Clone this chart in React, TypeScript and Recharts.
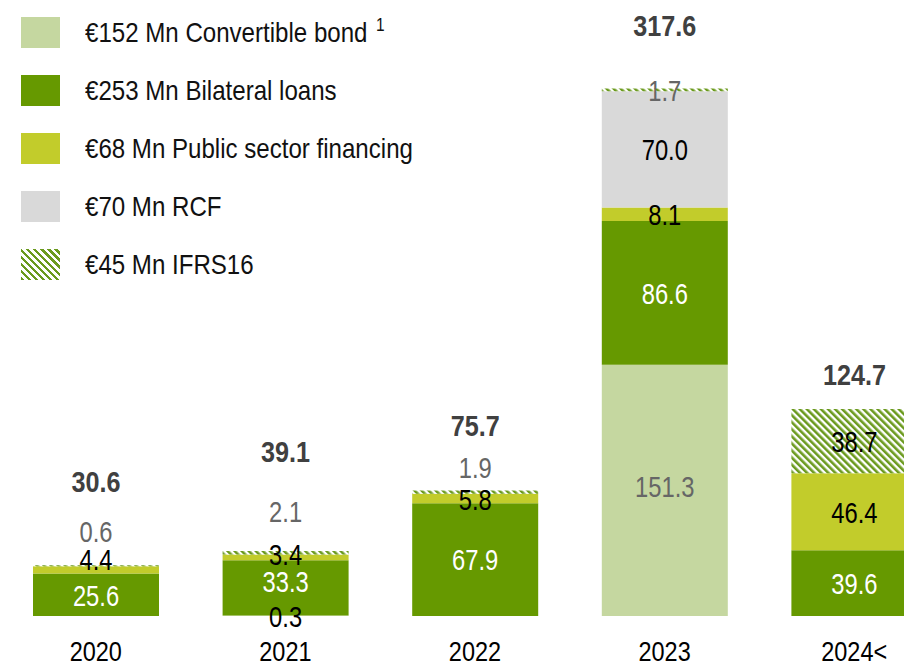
import React from 'react';
import { BarChart, Bar, XAxis, YAxis, Legend, LabelList } from 'recharts';

const categories = ['2020', '2021', '2022', '2023', '2024<'];
const convertible = [0, 0.3, 0, 151.3, 0];
const bilateral = [25.6, 33.3, 67.9, 86.6, 39.6];
const publicSector = [4.4, 3.4, 5.8, 8.1, 46.4];
const rcf = [0, 0, 0, 70.0, 0];
const ifrs16 = [0.6, 2.1, 1.9, 1.7, 38.7];
const totals = [30.6, 39.1, 75.7, 317.6, 124.7];

const legendNames = [
    '€152 Mn Convertible bond',
    '€253 Mn Bilateral loans',
    '€68 Mn Public sector financing',
    '€70 Mn RCF',
    '€45 Mn IFRS16',
];

const data = categories.map((name, i) => ({
    name,
    convertible: convertible[i],
    bilateral: bilateral[i],
    publicSector: publicSector[i],
    rcf: rcf[i],
    ifrs16: ifrs16[i],
    total: totals[i],
}));

// no narrow font installed, so squeeze Liberation Sans (Arial metrics)
const FONT = "'Liberation Sans', Arial, sans-serif";
const GREEN = '#669900';
const HATCH = '#6b9a1e';
const GREY_TEXT = '#666666';

// hand-placed label nudges (px) where small segments would collide
const shiftConvertible = [0, -4, 0, 0, 0];
const shiftBilateral = [0, -7, 0, 0, 0];
const shiftPublic = [-11, -3, 1, 0, 0];
const shiftIfrs = [-35, -42, -25, 0, 0];
const totalLift = [83, 99, 65, 63, 34];

const Narrow = ({ x, y, fill, bold, size = 29, squeeze = 0.82, children }: any) => (
    <text
        transform={`translate(${x},${y}) scale(${squeeze},1)`}
        textAnchor="middle"
        dominantBaseline="central"
        fill={fill}
        fontSize={size}
        fontWeight={bold ? 'bold' : 'normal'}
        fontFamily={FONT}
    >
        {children}
    </text>
);

const makeLabel =
    (color: (v: number) => string, shift: number[]) =>
    (props: any) => {
        const { x, y, width, height, value, index } = props;
        if (!value) return null;
        const cx = Number(x) + Number(width) / 2;
        const cy = Number(y) + Number(height) / 2 + 1 + (shift[index] || 0);
        return (
            <Narrow x={cx} y={cy} fill={color(value)}>
                {Number(value).toFixed(1)}
            </Narrow>
        );
    };

const TotalLabel = (props: any) => {
    const { x, y, width, index } = props;
    return (
        <Narrow x={Number(x) + Number(width) / 2} y={Number(y) - totalLift[index]} fill="#404040" bold size={30} squeeze={0.84}>
            {totals[index].toFixed(1)}
        </Narrow>
    );
};

const YearTick = (props: any) => {
    const { x, y, payload } = props;
    return (
        <Narrow x={x} y={y + 35.5} fill="#000" size={28} squeeze={0.84}>
            {payload.value}
        </Narrow>
    );
};

const swatches = [
    { background: '#c5d7a0' },
    { background: GREEN },
    { background: '#c2cc2b' },
    { background: '#d9d9d9' },
    { background: `repeating-linear-gradient(45deg, ${HATCH} 0px, ${HATCH} 2.5px, #ffffff 2.5px, #ffffff 5px)` },
];

const LegendBox = () => (
    <div style={{ position: 'absolute', left: 21, top: 17 }}>
        {legendNames.map((n, i) => (
            <div key={n} style={{ display: 'flex', alignItems: 'center', height: 31, marginBottom: 27 }}>
                <div style={{ width: 39, height: 31, flex: 'none', ...swatches[i] }} />
                <span
                    style={{
                        marginLeft: 25,
                        fontFamily: FONT,
                        fontSize: 28,
                        color: '#111',
                        whiteSpace: 'nowrap',
                        display: 'inline-block',
                        transform: 'scaleX(0.86)',
                        transformOrigin: 'left center',
                    }}
                >
                    {n}
                    {i === 0 && <span style={{ fontSize: 18, position: 'relative', top: -11, marginLeft: 10 }}>1</span>}
                </span>
            </div>
        ))}
    </div>
);

export default function App() {
    return (
        <div style={{ position: 'absolute', left: 0, top: 0, width: 904, height: 664, overflow: 'hidden', background: '#fff' }}>
            <BarChart
                width={950}
                height={664}
                data={data}
                margin={{ top: 88, right: 1, bottom: 8, left: 1 }}
                barSize={126}
            >
                <defs>
                    <pattern id="ifrsHatch" width="5" height="5" patternUnits="userSpaceOnUse" patternTransform="rotate(-45)">
                        <rect width="5" height="5" fill="#ffffff" />
                        <rect width="2.6" height="5" fill={HATCH} />
                    </pattern>
                </defs>
                <XAxis
                    dataKey="name"
                    axisLine={false}
                    tickLine={false}
                    tickSize={0}
                    tickMargin={0}
                    interval={0}
                    height={40}
                    tick={<YearTick />}
                />
                <YAxis hide domain={[0, 318]} allowDataOverflow />
                <Legend verticalAlign="top" align="left" wrapperStyle={{ top: 0, left: 0 }} content={<LegendBox />} />
                <Bar dataKey="convertible" stackId="a" fill="#c5d7a0" isAnimationActive={false}>
                    <LabelList dataKey="convertible" content={makeLabel((v) => (v < 10 ? '#000' : GREY_TEXT), shiftConvertible)} />
                </Bar>
                <Bar dataKey="bilateral" stackId="a" fill={GREEN} isAnimationActive={false}>
                    <LabelList dataKey="bilateral" content={makeLabel(() => '#ffffff', shiftBilateral)} />
                </Bar>
                <Bar dataKey="publicSector" stackId="a" fill="#c2cc2b" isAnimationActive={false}>
                    <LabelList dataKey="publicSector" content={makeLabel(() => '#000', shiftPublic)} />
                </Bar>
                <Bar dataKey="rcf" stackId="a" fill="#d9d9d9" isAnimationActive={false}>
                    <LabelList dataKey="rcf" content={makeLabel(() => '#000', [0, 0, 0, 0, 0])} />
                </Bar>
                <Bar dataKey="ifrs16" stackId="a" fill="url(#ifrsHatch)" isAnimationActive={false}>
                    <LabelList dataKey="ifrs16" content={makeLabel((v) => (v < 10 ? GREY_TEXT : '#000'), shiftIfrs)} />
                    <LabelList dataKey="total" content={<TotalLabel />} />
                </Bar>
            </BarChart>
        </div>
    );
}
